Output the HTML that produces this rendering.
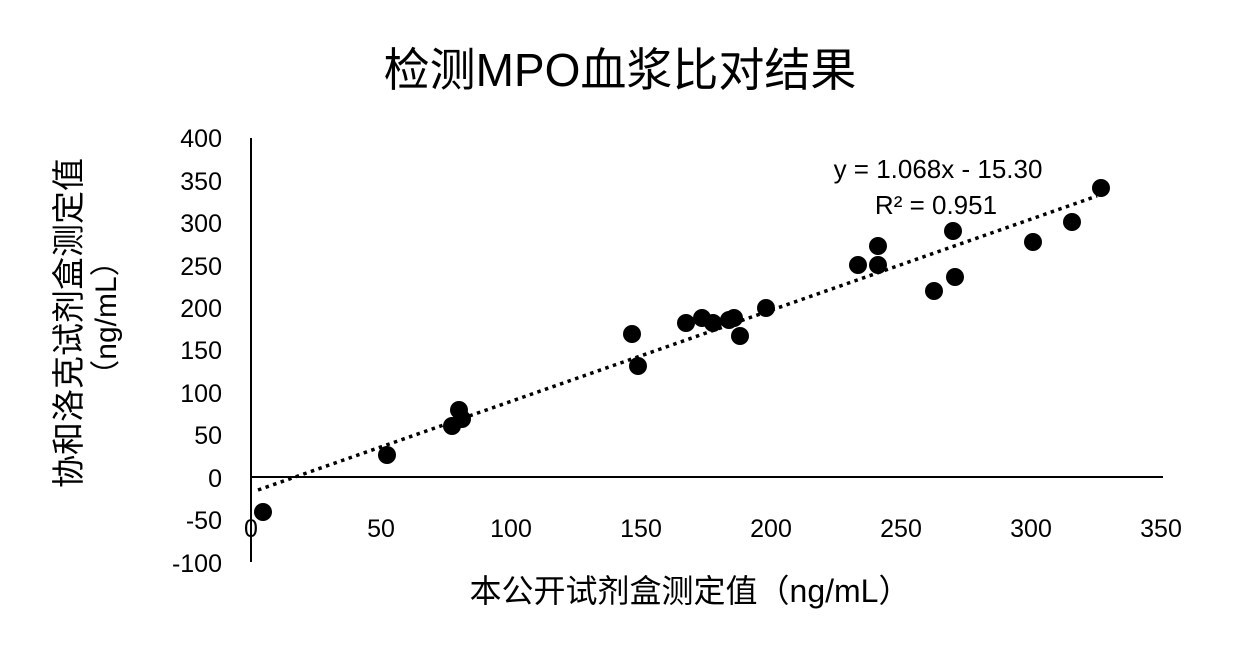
<!DOCTYPE html>
<html><head><meta charset="utf-8"><style>
body{margin:0;background:#fff;}
svg text{font-family:"Liberation Sans","Noto Sans CJK SC",sans-serif;fill:#000;}
</style></head><body>
<svg width="1240" height="661" viewBox="0 0 1240 661" xmlns="http://www.w3.org/2000/svg">
<rect width="1240" height="661" fill="#fff"/>
<text x="620" y="86" font-size="46" text-anchor="middle">检测MPO血浆比对结果</text>
<line x1="251" y1="138" x2="251" y2="562" stroke="#000" stroke-width="2"/>
<line x1="251" y1="477" x2="1163" y2="477" stroke="#000" stroke-width="2"/>
<g font-size="25" text-anchor="end">
<text x="222" y="147">400</text><text x="222" y="190">350</text><text x="222" y="232">300</text>
<text x="222" y="275">250</text><text x="222" y="317">200</text><text x="222" y="359">150</text>
<text x="222" y="402">100</text><text x="222" y="444">50</text><text x="222" y="487">0</text>
<text x="222" y="529">-50</text><text x="222" y="572">-100</text>
</g>
<g font-size="25" text-anchor="middle">
<text x="251" y="537">0</text><text x="381" y="537">50</text><text x="511" y="537">100</text>
<text x="641" y="537">150</text><text x="771" y="537">200</text><text x="901" y="537">250</text>
<text x="1031" y="537">300</text><text x="1161" y="537">350</text>
</g>
<text x="690" y="602" font-size="32" text-anchor="middle">本公开试剂盒测定值（ng/mL）</text>
<text transform="translate(80,323) rotate(-90)" font-size="33" text-anchor="middle">协和洛克试剂盒测定值</text>
<text transform="translate(116,318) rotate(-90)" font-size="30" text-anchor="middle">（ng/mL）</text>
<line x1="258" y1="490" x2="1097" y2="196" stroke="#000" stroke-width="3.5" stroke-dasharray="3.5 4.5"/>
<g fill="#000">
<circle cx="263" cy="512" r="9"/><circle cx="387" cy="455" r="9"/><circle cx="452" cy="426" r="9"/>
<circle cx="459" cy="410" r="9"/><circle cx="462" cy="419" r="9"/><circle cx="632" cy="334" r="9"/>
<circle cx="638" cy="366" r="9"/><circle cx="686" cy="323" r="9"/><circle cx="702" cy="318" r="9"/>
<circle cx="713" cy="323" r="9"/><circle cx="729" cy="320" r="9"/><circle cx="734" cy="318" r="9"/>
<circle cx="740" cy="336" r="9"/><circle cx="766" cy="308" r="9"/><circle cx="858" cy="265" r="9"/>
<circle cx="878" cy="246" r="9"/><circle cx="878" cy="265" r="9"/><circle cx="934" cy="291" r="9"/>
<circle cx="953" cy="231" r="9"/><circle cx="955" cy="277" r="9"/><circle cx="1033" cy="242" r="9"/>
<circle cx="1072" cy="222" r="9"/><circle cx="1101" cy="188" r="9"/>
</g>
<text x="938" y="178" font-size="26" text-anchor="middle">y = 1.068x - 15.30</text>
<text x="936" y="214" font-size="26" text-anchor="middle">R² = 0.951</text>
</svg>
</body></html>
